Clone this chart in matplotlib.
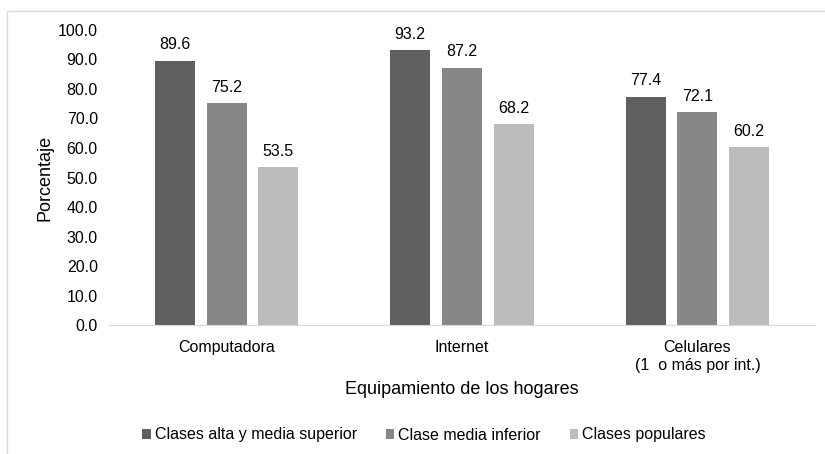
import numpy as np
import matplotlib.pyplot as plt
from matplotlib.patches import Rectangle

plt.rcParams['font.family'] = ['Liberation Sans', 'DejaVu Sans']

categories = ['Computadora', 'Internet', 'Celulares\n(1  o más por int.)']
series_names = ['Clases alta y media superior', 'Clase media inferior', 'Clases populares']
alta = [89.6, 93.2, 77.4]
media = [75.2, 87.2, 72.1]
populares = [53.5, 68.2, 60.2]
colors = ['#606060', '#878787', '#bcbcbc']

fig = plt.figure(figsize=(8.25, 4.54), dpi=100)
ax = fig.add_axes([0.132, 0.284, 0.856, 0.65])

# light frame around the chart
fig.patches.append(Rectangle((7/825, -0.1), 1.2, 1 - 11/454 + 0.1, transform=fig.transFigure,
                             fill=False, edgecolor='#d9d9d9', linewidth=1))

x = np.arange(len(categories))
w = 0.17
step = 0.22
for i, (vals, name) in enumerate(zip([alta, media, populares], series_names)):
    pos = x + (i - 1) * step
    ax.bar(pos, vals, w, color=colors[i], label=name)
    for p, v in zip(pos, vals):
        ax.text(p, v + 2.8, f'{v:.1f}', ha='center', va='bottom', fontsize=11.5, color='#000000')

ax.set_xlim(-0.5, 2.5)
ax.set_ylim(0, 100)
ax.set_yticks(np.arange(0, 101, 10))
ax.set_yticklabels([f'{t:.1f}' for t in np.arange(0, 101, 10)], fontsize=11.5)
ax.set_xticks(x)
ax.set_xticklabels(categories, fontsize=11.5, linespacing=1.2)
ax.tick_params(axis='x', length=0, pad=11)
ax.tick_params(axis='y', length=0, pad=8)
for s in ['top', 'right', 'left']:
    ax.spines[s].set_visible(False)
ax.spines['bottom'].set_color('#d9d9d9')
ax.set_ylabel('Porcentaje', fontsize=13, labelpad=3)
ax.set_xlabel('Equipamiento de los hogares', fontsize=13, labelpad=6)

fig.legend(loc='center', bbox_to_anchor=(0.514, 1 - 435/454), ncol=3, frameon=False,
           fontsize=11.5, handlelength=0.55, handleheight=0.55, handletextpad=0.25, columnspacing=1.8)

fig.savefig('out.png', dpi=100)
